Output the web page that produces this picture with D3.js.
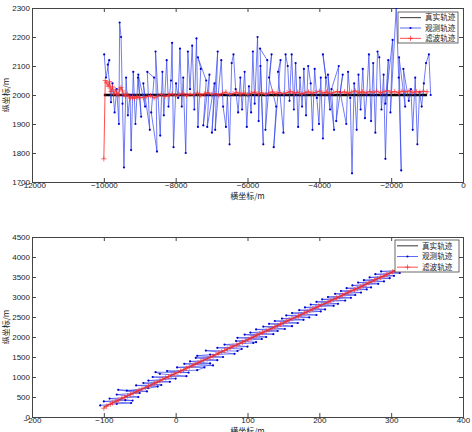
<!DOCTYPE html>
<html>
<head>
<meta charset="utf-8">
<script src="https://cdn.jsdelivr.net/npm/d3@7"></script>
<style>
  body { margin: 0; background: #fff; }
  svg { display: block; }
  .tick text { font-family: "Liberation Sans", Arial, sans-serif; font-size: 8px; fill: #222; }
  .lbl { font-family: "Noto Sans CJK SC", sans-serif; font-size: 8px; fill: #222; }
  .leg { font-family: "Noto Sans CJK SC", sans-serif; font-size: 7.6px; fill: #222; }
</style>
</head>
<body>
<div id="chart"></div>
<script>
// legend labels
const seriesNames = ["真实轨迹", "观测轨迹", "滤波轨迹"];

// ---- top panel: horizontal track ----
const topTicksX = [-12000, -10000, -8000, -6000, -4000, -2000, 0];
const topTicksY = [1700, 1800, 1900, 2000, 2100, 2200, 2300];
const topTrueX = [-10000, -1000];
const topTrueY = [2000, 2000];

const topObsX = [
  -9990, -9940, -9850, -9890, -9800, -9760, -9700, -9640, -9580, -9560,
  -9520, -9480, -9440, -9380, -9330, -9270, -9240, -9180, -9120, -9050,
  -8960, -9040, -8850, -8900, -8720, -8790, -8600, -8680, -8520, -8560,
  -8430, -8370, -8330, -8250, -8200, -8130, -8100, -8060, -7990, -7930,
  -7880, -7830, -7790, -7720, -7660, -7600, -7540, -7480, -7420, -7380,
  -7300, -7380, -7150, -7230, -7060, -7120, -6920, -6990, -6830, -6900,
  -6730, -6680, -6600, -6560, -6500, -6440, -6390, -6330, -6260, -6200,
  -6150, -6080, -6020, -5960, -5900, -5850, -5800, -5720, -5690, -5640,
  -5560, -5650, -5450, -5500, -5330, -5400, -5200, -5270, -5080, -5150,
  -5000, -4940, -4880, -4830, -4770, -4710, -4660, -4590, -4540, -4480,
  -4430, -4370, -4310, -4240, -4190, -4130, -4070, -4010, -3960, -3900,
  -3820, -3900, -3700, -3760, -3590, -3660, -3460, -3530, -3350, -3420,
  -3250, -3200, -3140, -3090, -3030, -2960, -2910, -2850, -2790, -2730,
  -2680, -2620, -2560, -2500, -2440, -2380, -2330, -2270, -2210, -2160,
  -2080, -2160, -1960, -2020, -1860, -1790, -1720, -1780, -1610, -1660,
  -1510, -1450, -1400, -1330, -1270, -1210, -1150, -1090, -1030, -950,
  -900
];
const topObsY = [
  2140, 2060, 2120, 2105, 1975, 2040, 1940, 2020, 1900, 2250,
  2200, 1970, 1750, 2060, 1930, 2000, 1810, 2080, 1900, 2060,
  1925, 2070, 1960, 2040, 1880, 2080, 2060, 1940, 1805, 2150,
  1860, 2080, 1930, 2120, 1960, 2050, 2180, 1820, 2040, 1990,
  2160, 1960, 2060, 1800, 2150, 2020, 2170, 1950, 2195, 1890,
  2090, 2130, 2050, 1895, 2070, 1890, 2040, 1870, 2150, 1880,
  2120, 1960, 1890, 2000, 1830, 2110, 2140, 2020, 1940, 2060,
  1950, 2080, 1890, 2030, 1940, 2150, 1970, 2200, 1910, 2100,
  1830, 2160, 2120, 1880, 2140, 2060, 1960, 1820, 2120, 2080,
  1870, 2140, 2100, 1980, 2140, 1950, 2110, 1890, 2060, 1960,
  2090, 1930, 2100, 2040, 1880, 2090, 1990, 1900, 2060, 1850,
  2060, 2140, 1950, 2070, 1880, 2020, 2100, 1910, 2070, 2010,
  1900, 2080, 1990, 1730, 2040, 1880, 2070, 1950, 2090, 1920,
  2000, 2140, 1910, 2110, 1870, 2150, 2130, 1950, 2070, 1780,
  2120, 1970, 2190, 1940, 2300, 2060, 1740, 2130, 1960, 2090,
  1980, 2020, 1880, 2060, 1830, 2010, 1960, 2040, 2110, 2140,
  2000
];

const topFiltX = [
  -10000, -9960, -9920, -9880, -9840, -9800, -9760, -9720, -9680, -9640,
  -9600, -9560, -9520, -9480, -9440, -9400, -9350, -9300, -9250, -9200,
  -9150, -9100, -9050, -9000,
  -8900, -8800, -8700, -8600, -8500, -8400, -8300, -8200, -8100, -8000,
  -7900, -7800, -7700, -7600, -7500, -7400, -7300, -7200, -7100, -7000,
  -6900, -6800, -6700, -6600, -6500, -6400, -6300, -6200, -6100, -6000,
  -5900, -5800, -5700, -5600, -5500, -5400, -5300, -5200, -5100, -5000,
  -4900, -4800, -4700, -4600, -4500, -4400, -4300, -4200, -4100, -4000,
  -3900, -3800, -3700, -3600, -3500, -3400, -3300, -3200, -3100, -3000,
  -2900, -2800, -2700, -2600, -2500, -2400, -2300, -2200, -2100, -2000,
  -1900, -1800, -1700, -1600, -1500, -1400, -1300, -1200, -1100, -1000
];
const topFiltY = [
  1780, 2050, 2042, 2030, 2046, 2012, 2028, 2003, 2018, 2006,
  2000, 2020, 2026, 2014, 2001, 1996, 2004, 1995, 1990, 1993,
  1988, 1995, 1992, 1990,
  1992, 1994, 1998, 1990, 1996, 2003, 1995, 1999, 2004, 1997,
  2001, 2006, 1998, 2003, 2000, 2007, 1999, 2004, 2008, 2001,
  2005, 1999, 2006, 2010, 2002, 2005, 2009, 2003, 2007, 2001,
  2006, 2010, 2004, 2008, 2002, 2007, 2011, 2005, 2009, 2004,
  2008, 2012, 2006, 2010, 2003, 2008, 2011, 2006, 2009, 2013,
  2007, 2010, 2005, 2009, 2012, 2008, 2011, 2006, 2010, 2014,
  2008, 2011, 2007, 2012, 2009, 2013, 2008, 2011, 2015, 2009,
  2012, 2008, 2013, 2010, 2014, 2009, 2012, 2010, 2013, 2011
];

// ---- bottom panel: diagonal track ----
const botTicksX = [-200, -100, 0, 100, 200, 300, 400];
const botTicksY = [0, 500, 1000, 1500, 2000, 2500, 3000, 3500, 4000, 4500];
const botTrueX = [-100, 306];
const botTrueY = [250, 3665];

const botObsX = [
  -105, -82, -62, -100, -70, -60, -92, -52, -82, -50,
  -80, -40, -68, -38, -25, -55, -20, -45, -8, -38,
  0, -32, 15, -22, -28, 18, -12, 30, 40, 2,
  52, 12, 48, 20, 58, 28, 66, 30, 48, 82,
  42, 86, 92, 58, 100, 68, 108, 112, 84, 120,
  86, 126, 96, 136, 104, 142, 112, 152, 122, 162,
  130, 170, 138, 178, 148, 186, 154, 196, 162, 202,
  172, 208, 180, 220, 188, 226, 196, 236, 204, 244,
  212, 250, 222, 258, 230, 266, 238, 272, 246, 282,
  254, 290, 262, 298, 270, 304, 278, 312, 286, 308
];
const botObsY = [
  290, 330, 350, 390, 420, 410, 460, 500, 560, 600,
  680, 640, 660, 720, 760, 790, 800, 850, 880, 910,
  960, 1000, 1020, 1080, 1120, 1110, 1150, 1170, 1240, 1240,
  1290, 1330, 1340, 1390, 1420, 1480, 1500, 1530, 1560, 1580,
  1660, 1650, 1700, 1730, 1760, 1810, 1850, 1870, 1900, 1950,
  1980, 2000, 2060, 2070, 2110, 2150, 2190, 2200, 2260, 2270,
  2330, 2350, 2400, 2430, 2460, 2490, 2540, 2550, 2600, 2640,
  2670, 2690, 2740, 2780, 2810, 2830, 2880, 2910, 2940, 2980,
  3000, 3050, 3080, 3110, 3150, 3190, 3220, 3240, 3290, 3330,
  3360, 3390, 3420, 3470, 3490, 3530, 3570, 3600, 3640, 3660
];

const botFiltX = [
  -100, -96, -91, -88, -83, -80, -75, -71, -67, -63,
  -59, -55, -51, -47, -42, -38, -34, -30, -26, -22,
  -18, -14, -10, -6, -2, 3, 7, 11, 15, 19,
  23, 27, 31, 35, 39, 44, 48, 52, 56, 60,
  64, 68, 72, 76, 80, 85, 89, 93, 97, 101,
  105, 109, 113, 117, 121, 126, 130, 134, 138, 142,
  146, 150, 154, 158, 162, 167, 171, 175, 179, 183,
  187, 191, 195, 199, 203, 208, 212, 216, 220, 224,
  228, 232, 236, 240, 244, 249, 253, 257, 261, 265,
  269, 273, 277, 281, 285, 290, 294, 298, 302, 306
];
const botFiltY = [
  220, 270, 320, 350, 395, 420, 470, 495, 530, 565,
  600, 630, 670, 700, 735, 770, 800, 840, 870, 905,
  945, 975, 1010, 1045, 1075, 1115, 1150, 1180, 1220, 1250,
  1285, 1320, 1355, 1390, 1425, 1455, 1495, 1525, 1560, 1600,
  1630, 1665, 1700, 1735, 1770, 1800, 1840, 1870, 1905, 1940,
  1975, 2010, 2045, 2080, 2110, 2150, 2180, 2215, 2250, 2285,
  2320, 2355, 2390, 2425, 2460, 2490, 2525, 2560, 2595, 2630,
  2665, 2700, 2735, 2770, 2805, 2835, 2870, 2905, 2940, 2975,
  3010, 3045, 3080, 3115, 3150, 3180, 3215, 3250, 3285, 3320,
  3355, 3390, 3425, 3460, 3490, 3525, 3560, 3595, 3630, 3665
];

const W = 472, H = 432;
const svg = d3.select("#chart").append("svg").attr("width", W).attr("height", H);

function drawPanel(p) {
  const x = d3.scaleLinear().domain([p.ticksX[0], p.ticksX[p.ticksX.length - 1]]).range([p.left, p.right]);
  const y = d3.scaleLinear().domain([p.ticksY[0], p.ticksY[p.ticksY.length - 1]]).range([p.bottom, p.top]);

  const g = svg.append("g");
  const clipId = "clip" + p.id;
  g.append("clipPath").attr("id", clipId).append("rect")
    .attr("x", p.left).attr("y", p.top).attr("width", p.right - p.left).attr("height", p.bottom - p.top);

  // axes, MATLAB style: ticks inside, box
  const axB = g.append("g").attr("transform", `translate(0,${p.bottom})`)
    .call(d3.axisBottom(x).tickValues(p.ticksX).tickSize(-4).tickPadding(1).tickFormat(d3.format("d")));
  const axT = g.append("g").attr("transform", `translate(0,${p.top})`)
    .call(d3.axisTop(x).tickValues(p.ticksX).tickSize(-4).tickFormat(""));
  const axL = g.append("g").attr("transform", `translate(${p.left},0)`)
    .call(d3.axisLeft(y).tickValues(p.ticksY).tickSize(-4).tickPadding(2).tickFormat(d3.format("d")));
  const axR = g.append("g").attr("transform", `translate(${p.right},0)`)
    .call(d3.axisRight(y).tickValues(p.ticksY).tickSize(-4).tickFormat(""));
  [axB, axT, axL, axR].forEach(a => {
    a.select(".domain").attr("stroke", "#444");
    a.selectAll(".tick line").attr("stroke", "#444");
  });
  axB.selectAll(".tick text").attr("dy", "0.6em");

  const plot = g.append("g").attr("clip-path", `url(#${clipId})`);
  const line = d3.line().x(d => x(d[0])).y(d => y(d[1]));

  // true track
  plot.append("path").datum(d3.zip(p.trueX, p.trueY))
    .attr("d", line).attr("fill", "none").attr("stroke", "#000").attr("stroke-width", p.trueWidth);

  // observed track
  const obs = d3.zip(p.obsX, p.obsY);
  plot.append("path").datum(obs)
    .attr("d", line).attr("fill", "none").attr("stroke", "#3344ee").attr("stroke-width", 0.7);
  plot.selectAll(".obs").data(obs).enter().append("circle")
    .attr("cx", d => x(d[0])).attr("cy", d => y(d[1])).attr("r", 1.1).attr("fill", "#0000cc");

  // filtered track
  const filt = d3.zip(p.filtX, p.filtY);
  plot.append("path").datum(filt)
    .attr("d", line).attr("fill", "none").attr("stroke", "#ff2020").attr("stroke-width", 0.8);
  const s = 2.6;
  plot.selectAll(".filt").data(filt).enter().append("path")
    .attr("d", d => `M${x(d[0]) - s},${y(d[1])}h${2 * s}M${x(d[0])},${y(d[1]) - s}v${2 * s}`)
    .attr("stroke", "#ff3030").attr("stroke-width", 0.7).attr("fill", "none");

  // axis titles
  g.append("text").attr("class", "lbl").attr("x", (p.left + p.right) / 2).attr("y", p.bottom + 17)
    .attr("text-anchor", "middle").text("横坐标/m");
  g.append("text").attr("class", "lbl")
    .attr("transform", `translate(9,${(p.top + p.bottom) / 2}) rotate(-90)`)
    .attr("text-anchor", "middle").text("纵坐标/m");

  // legend
  const lg = g.append("g").attr("transform", `translate(${p.legX},${p.legY})`);
  lg.append("rect").attr("width", p.legW).attr("height", p.legH)
    .attr("fill", "#fff").attr("stroke", "#444").attr("stroke-width", 0.8);
  const rowH = p.legH / 3;
  seriesNames.forEach((name, i) => {
    const cy = rowH * (i + 0.5) + 0.5;
    const col = ["#000", "#3344ee", "#ff2020"][i];
    lg.append("line").attr("x1", 2).attr("x2", 23).attr("y1", cy).attr("y2", cy)
      .attr("stroke", col).attr("stroke-width", 0.8);
    if (i === 1) lg.append("circle").attr("cx", 12.5).attr("cy", cy).attr("r", 1.1).attr("fill", "#0000cc");
    if (i === 2) lg.append("path").attr("d", `M${12.5 - s},${cy}h${2 * s}M12.5,${cy - s}v${2 * s}`)
      .attr("stroke", "#ff3030").attr("stroke-width", 0.7);
    lg.append("text").attr("class", "leg").attr("x", 27).attr("y", cy).attr("dy", "0.35em").text(name);
  });
}

drawPanel({
  id: "top", left: 32, right: 463, top: 8, bottom: 182,
  ticksX: topTicksX, ticksY: topTicksY,
  trueX: topTrueX, trueY: topTrueY, trueWidth: 2.6,
  obsX: topObsX, obsY: topObsY, filtX: topFiltX, filtY: topFiltY,
  legX: 398, legY: 12, legW: 60, legH: 31
});

drawPanel({
  id: "bot", left: 32, right: 463, top: 237, bottom: 417,
  ticksX: botTicksX, ticksY: botTicksY,
  trueX: botTrueX, trueY: botTrueY, trueWidth: 0.8,
  obsX: botObsX, obsY: botObsY, filtX: botFiltX, filtY: botFiltY,
  legX: 395, legY: 240, legW: 64, legH: 32
});
</script>
</body>
</html>
